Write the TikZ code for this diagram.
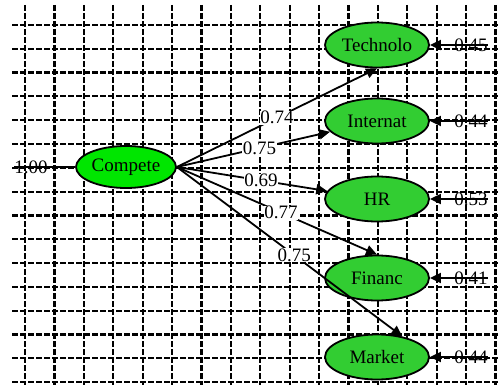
\documentclass[tikz,border=0pt]{standalone}
\usepackage{fontspec}
\setmainfont{Liberation Serif}
\newfontfamily\tnr{Liberation Serif}
\usetikzlibrary{arrows.meta,shapes.geometric}
\definecolor{cgreen}{RGB}{0,230,0}
\definecolor{lgreen}{RGB}{50,205,50}
\begin{document}
\begin{tikzpicture}[x=1pt,y=-1pt,
  gridline/.style={line width=2.2pt,dash pattern=on 6pt off 2pt},
  latent/.style={ellipse,draw,line width=1.8pt,fill=lgreen,minimum width=104pt,minimum height=45pt,inner sep=0pt,font=\tnr\fontsize{19}{21}\selectfont},
  lbl/.style={inner sep=0.5pt,font=\tnr\fontsize{19}{21}\selectfont},
  elbl/.style={inner sep=0pt,font=\tnr\fontsize{19}{21}\selectfont},
  path/.style={line width=1.8pt,-{Triangle[length=11pt,width=10pt]}}]
\useasboundingbox (0,0) rectangle (498,385);
% grid
\foreach \i in {0,...,16} {
  \draw[gridline] (25+\i*29.4,5) -- (25+\i*29.4,385);
}
\foreach \j in {0,...,15} {
  \draw[gridline] (12,25+\j*23.8) -- (498,25+\j*23.8);
}
% nodes
\node[latent,fill=cgreen,minimum width=100pt,minimum height=42pt] (comp) at (126,167) {Compete};
\node[latent] (tech) at (377,45) {Technolo};
\node[latent] (int) at (377,121) {Internat};
\node[latent] (hr) at (377,199) {HR};
\node[latent] (fin) at (377,278) {Financ};
\node[latent] (mkt) at (377,357) {Market};
% error labels
\node[elbl] (e0) at (31,167) {1.00};
\node[elbl] (e1) at (471,45) {0.45};
\node[elbl] (e2) at (471,121) {0.44};
\node[elbl] (e3) at (471,199) {0.53};
\node[elbl] (e4) at (471,278) {0.41};
\node[elbl] (e5) at (471,357) {0.44};
\draw[line width=1.8pt] (e0.west) -- (comp.west);
\foreach \e/\n in {e1/tech,e2/int,e3/hr,e4/fin,e5/mkt} {
  \draw[path] (\e.east) -- (\n.east);
}
% loadings
\draw[path] (comp.east) -- node[lbl,fill=white,pos=0.5] (l1) {0.74} (tech.south);
\draw[path] (comp.east) -- node[lbl,fill=white,pos=0.54] (l2) {0.75} (int);
\draw[path] (comp.east) -- node[lbl,fill=white,pos=0.56] (l3) {0.69} (hr);
\draw[path] (comp.east) -- node[lbl,fill=white,pos=0.52] (l4) {0.77} (fin.north);
\draw[path] (comp.east) -- node[lbl,fill=white,pos=0.52] (l5) {0.75} (mkt.39);
\end{tikzpicture}
\end{document}
